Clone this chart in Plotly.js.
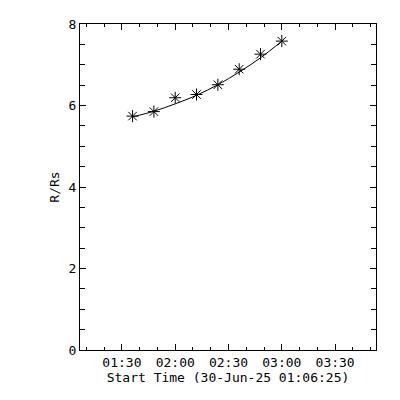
<!DOCTYPE html>
<html>
<head>
<meta charset="utf-8">
<script src="https://cdn.plot.ly/plotly-3.0.1.min.js"></script>
<style>html,body{margin:0;padding:0;background:#fff;}#chart{width:400px;height:400px;}</style>
</head>
<body>
<div id="chart"></div>
<script>
// Observation times (30-Jun-25)
const times = [
  "2025-06-30 01:36:00", "2025-06-30 01:48:00", "2025-06-30 02:00:00", "2025-06-30 02:12:00",
  "2025-06-30 02:24:00", "2025-06-30 02:36:00", "2025-06-30 02:48:00", "2025-06-30 03:00:00"
];
// Measured heights (R/Rs)
const heights = [5.74, 5.85, 6.19, 6.27, 6.51, 6.89, 7.26, 7.58];
// Fitted curve values at the same times
const fitValues = [5.72, 5.86, 6.04, 6.25, 6.51, 6.82, 7.17, 7.58];

const xRange = ["2025-06-30 01:06:25", "2025-06-30 03:53:00"];
const yRange = [0, 8];
const xTitle = "Start Time (30-Jun-25 01:06:25)";
const yTitle = "R/Rs";

const fontFamily = "'DejaVu Sans Mono', 'Liberation Mono', monospace";

const traces = [
  {
    x: times, y: fitValues, type: "scatter", mode: "lines",
    line: {color: "#000", width: 1, shape: "spline"},
    hoverinfo: "skip", showlegend: false
  },
  {
    x: times, y: heights, type: "scatter", mode: "markers",
    marker: {symbol: "asterisk-open", size: 10, color: "#000", line: {color: "#000", width: 1}},
    showlegend: false
  }
];

const layout = {
  width: 400, height: 400,
  margin: {l: 80, r: 24, t: 24, b: 50, pad: 0},
  paper_bgcolor: "#fff", plot_bgcolor: "#fff",
  font: {family: fontFamily, size: 13, color: "#000"},
  showlegend: false,
  xaxis: {
    type: "date", range: xRange,
    tick0: "2025-06-30 01:30:00", dtick: 1800000, tickformat: "%H:%M",
    ticks: "inside", ticklen: 6, tickwidth: 1, tickcolor: "#000",
    minor: {dtick: 600000, ticks: "inside", ticklen: 3, tickwidth: 1, tickcolor: "#000", showgrid: false},
    showline: true, linecolor: "#000", linewidth: 1, mirror: "ticks",
    showgrid: false, zeroline: false,
    tickfont: {family: fontFamily, size: 13, color: "#000"},
    title: {text: xTitle, standoff: 2, font: {family: fontFamily, size: 13, color: "#000"}}
  },
  yaxis: {
    range: yRange, tick0: 0, dtick: 2,
    ticks: "inside", ticklen: 6, tickwidth: 1, tickcolor: "#000",
    minor: {dtick: 0.5, ticks: "inside", ticklen: 5, tickwidth: 1, tickcolor: "#000", showgrid: false},
    showline: true, linecolor: "#000", linewidth: 1, mirror: "ticks",
    showgrid: false, zeroline: false,
    tickfont: {family: fontFamily, size: 13, color: "#000"},
    title: {text: yTitle, standoff: 6, font: {family: fontFamily, size: 13, color: "#000"}}
  }
};

Plotly.newPlot("chart", traces, layout, {staticPlot: true, displayModeBar: false});
</script>
</body>
</html>
